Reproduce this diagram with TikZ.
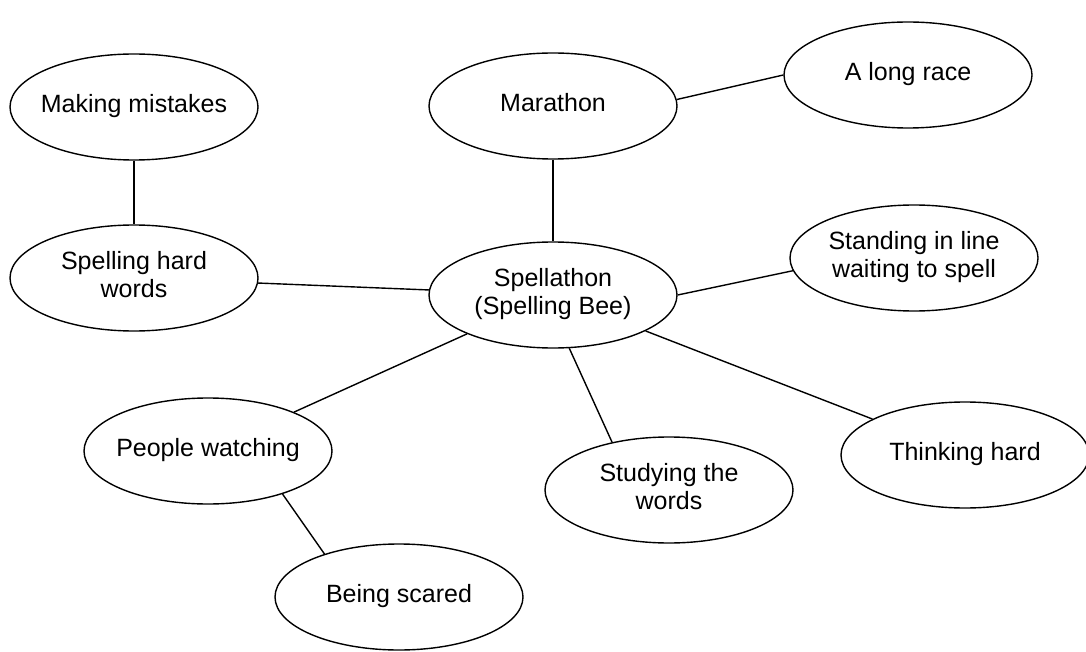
\documentclass[tikz,border=0pt]{standalone}
\usepackage{fontspec}
\setmainfont{Liberation Sans}
\usetikzlibrary{shapes.geometric}
% centred text of zero width, so the ellipse keeps its fixed size
\newcommand{\bubtext}[1]{\makebox[0pt]{\begin{tabular}{@{}c@{}}#1\end{tabular}}}
\begin{document}
\begin{tikzpicture}[x=1pt,y=-1pt,
  bubble/.style={draw, ellipse, line width=1.4pt, minimum width=248pt,
    minimum height=106pt, inner sep=0pt,
    font=\fontsize{25}{28}\selectfont},
  link/.style={line width=1.4pt}]
\fill[white] (0,0) rectangle (1086,652);
\useasboundingbox (0,0) rectangle (1086,652);

% word web nodes
\node[bubble] (mistakes) at (134,107) {\bubtext{Making mistakes}};
\node[bubble] (marathon) at (553,106) {\bubtext{Marathon}};
\node[bubble] (race)     at (908,75)  {\bubtext{A long race}};
\node[bubble] (hard)     at (134,278) {\bubtext{Spelling hard\\words}};
\node[bubble] (spell)    at (553,295) {\bubtext{Spellathon\\(Spelling Bee)}};
\node[bubble] (line)     at (914,258) {\bubtext{Standing in line\\waiting to spell}};
\node[bubble] (watch)    at (208,451) {\bubtext{People watching}};
\node[bubble] (think)    at (965,455) {\bubtext{Thinking hard}};
\node[bubble] (study)    at (669,490) {\bubtext{Studying the\\words}};
\node[bubble] (scared)   at (399,597) {\bubtext{Being scared}};

% connectors
\draw[link] (mistakes) -- (hard);
\draw[link] (marathon) -- (spell);
\draw[link] (marathon.3) -- (race.180);
\draw[link] (hard) -- (spell);
\draw[link] (spell.0) -- (line.186);
\draw[link] (spell) -- (watch);
\draw[link] (spell.-73) -- (study.140);
\draw[link] (spell) -- (think);
\draw[link] (watch.-30) -- (scared.150);
\end{tikzpicture}
\end{document}
